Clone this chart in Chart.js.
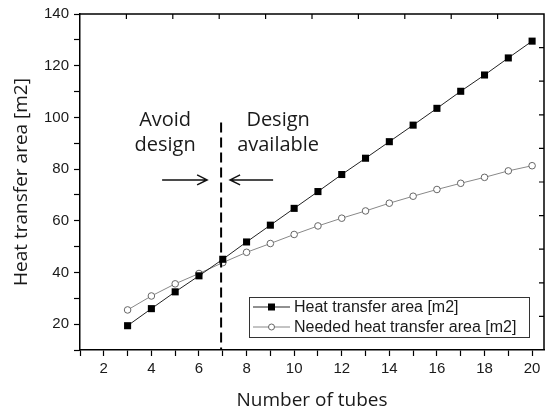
<!DOCTYPE html>
<html>
<head>
<meta charset="utf-8">
<script src="https://cdn.jsdelivr.net/npm/chart.js@4.4.1/dist/chart.umd.min.js"></script>
<style>
  html, body { margin: 0; padding: 0; background: #fff; }
  #wrap { width: 555px; height: 409px; }
</style>
</head>
<body>
<div id="wrap"><canvas id="tubesChart"></canvas></div>
<script>
// Data
const tubes = [3, 4, 5, 6, 7, 8, 9, 10, 11, 12, 13, 14, 15, 16, 17, 18, 19, 20];
const heatArea = [19.4, 26.0, 32.5, 38.7, 45.1, 51.8, 58.3, 64.8, 71.3, 77.9, 84.2, 90.6, 97.0, 103.5, 110.1, 116.4, 123.0, 129.5];
const neededArea = [25.5, 30.9, 35.6, 39.6, 43.8, 47.8, 51.2, 54.7, 58.0, 61.0, 63.8, 66.8, 69.5, 72.1, 74.5, 76.8, 79.3, 81.3];
const xTickLabels = [2, 4, 6, 8, 10, 12, 14, 16, 18, 20];
const yTickLabels = [20, 40, 60, 80, 100, 120, 140];
const seriesNames = ['Heat transfer area [m2]', 'Needed heat transfer area [m2]'];

// Annotations (data coordinates)
const dividerX = 6.93;
const dividerTop = 98;
const arrowY = 75.8;
const avoidLines = ['Avoid', 'design'];
const availLines = ['Design', 'available'];

const TXT = '#1a1a1a';
const LABEL_FONT = '"Liberation Sans", Arial, sans-serif';
const TITLE_FONT = '"Open Sans", "Noto Sans", sans-serif';

// frame, mirrored ticks, divider, arrows, notes and legend
const decorPlugin = {
    id: 'decor',
    afterDatasetsDraw(chart) {
        const { ctx, chartArea: a, scales: { x, y } } = chart;
        ctx.save();

        // top & right frame lines with inward ticks (10 divisions)
        ctx.strokeStyle = '#000';
        ctx.lineWidth = 1.5;
        ctx.beginPath();
        ctx.moveTo(a.left, a.top);
        ctx.lineTo(a.right, a.top);
        ctx.lineTo(a.right, a.bottom);
        ctx.stroke();
        ctx.lineWidth = 1.2;
        ctx.beginPath();
        for (let k = 1; k < 10; k++) {
            const px = x.getPixelForValue(x.min + k * (x.max - x.min) / 10);
            ctx.moveTo(px, a.top);
            ctx.lineTo(px, a.top + 5);
            const py = y.getPixelForValue(y.min + k * (y.max - y.min) / 10);
            ctx.moveTo(a.right, py);
            ctx.lineTo(a.right - 5, py);
        }
        ctx.stroke();

        // dashed divider
        const dx = x.getPixelForValue(dividerX);
        ctx.lineWidth = 2;
        ctx.setLineDash([10, 5]);
        ctx.beginPath();
        ctx.moveTo(dx, y.getPixelForValue(dividerTop));
        ctx.lineTo(dx, a.bottom);
        ctx.stroke();
        ctx.setLineDash([]);

        // arrows pointing at the divider
        const ay = y.getPixelForValue(arrowY);
        ctx.lineWidth = 1.5;
        ctx.strokeStyle = '#111';
        const arrow = (fromX, toX) => {
            const dir = Math.sign(toX - fromX);
            ctx.beginPath();
            ctx.moveTo(fromX, ay);
            ctx.lineTo(toX, ay);
            ctx.moveTo(toX - dir * 10, ay - 5);
            ctx.lineTo(toX, ay);
            ctx.lineTo(toX - dir * 10, ay + 5);
            ctx.stroke();
        };
        arrow(dx - 59, dx - 14);
        arrow(dx + 52, dx + 9);

        // notes
        ctx.fillStyle = TXT;
        ctx.font = '20px ' + TITLE_FONT;
        ctx.textAlign = 'center';
        ctx.textBaseline = 'alphabetic';
        const noteY = y.getPixelForValue(96.7);
        avoidLines.forEach((t, i) => ctx.fillText(t, dx - 56, noteY + i * 25));
        availLines.forEach((t, i) => ctx.fillText(t, dx + 57, noteY + i * 25));

        // legend box
        const lw = 280, lh = 40;
        const lx = a.right - 15 - lw, ly = a.bottom - 13 - lh;
        ctx.fillStyle = '#fff';
        ctx.fillRect(lx, ly, lw, lh);
        ctx.strokeStyle = '#333';
        ctx.lineWidth = 1;
        ctx.strokeRect(lx + 0.5, ly + 0.5, lw, lh);
        chart.data.datasets.forEach((ds, i) => {
            const ry = ly + 10 + i * 20;
            ctx.strokeStyle = ds.borderColor;
            ctx.lineWidth = 1;
            ctx.beginPath();
            ctx.moveTo(lx + 4, ry);
            ctx.lineTo(lx + 41, ry);
            ctx.stroke();
            if (i === 0) {
                ctx.fillStyle = '#000';
                ctx.fillRect(lx + 19, ry - 3.5, 7, 7);
            } else {
                ctx.fillStyle = '#fff';
                ctx.strokeStyle = ds.pointBorderColor;
                ctx.beginPath();
                ctx.arc(lx + 22.5, ry, 3, 0, Math.PI * 2);
                ctx.fill();
                ctx.stroke();
            }
            ctx.fillStyle = TXT;
            ctx.font = '16px ' + LABEL_FONT;
            ctx.textAlign = 'left';
            ctx.textBaseline = 'middle';
            ctx.fillText(seriesNames[i], lx + 45, ry + 1);
        });

        ctx.restore();
    }
};

const ctx = document.getElementById('tubesChart').getContext('2d');
new Chart(ctx, {
    type: 'scatter',
    data: {
        datasets: [
            {
                label: seriesNames[0],
                data: tubes.map((t, i) => ({ x: t, y: heatArea[i] })),
                showLine: true,
                borderColor: '#222',
                borderWidth: 1,
                pointStyle: 'rect',
                pointRadius: 5,
                pointBackgroundColor: '#000',
                pointBorderColor: '#000',
                pointBorderWidth: 0
            },
            {
                label: seriesNames[1],
                data: tubes.map((t, i) => ({ x: t, y: neededArea[i] })),
                showLine: true,
                borderColor: '#888',
                borderWidth: 1,
                pointStyle: 'circle',
                pointRadius: 3.3,
                pointBackgroundColor: '#fff',
                pointBorderColor: '#666',
                pointBorderWidth: 1
            }
        ]
    },
    plugins: [decorPlugin],
    options: {
        responsive: true,
        maintainAspectRatio: false,
        animation: false,
        layout: { padding: { left: 0, top: 14, right: 11, bottom: 0 } },
        plugins: {
            legend: { display: false },
            tooltip: { enabled: false }
        },
        scales: {
            x: {
                type: 'linear',
                min: 1,
                max: 20.5,
                afterBuildTicks(scale) {
                    // one tick per tube count, 1..20
                    const t = [];
                    for (let v = 1; v <= 20; v++) t.push({ value: v });
                    scale.ticks = t;
                },
                afterFit(scale) { scale.height = 59; },
                ticks: {
                    stepSize: 1,
                    autoSkip: false,
                    maxRotation: 0,
                    padding: 4,
                    color: TXT,
                    font: { family: LABEL_FONT, size: 15 },
                    callback: v => xTickLabels.includes(v) ? String(v) : ''
                },
                grid: { drawOnChartArea: false, drawTicks: true, tickLength: 6, color: '#000', tickWidth: 1.2 },
                border: { display: true, color: '#000', width: 1.5 },
                title: {
                    display: true,
                    text: 'Number of tubes',
                    color: TXT,
                    font: { family: TITLE_FONT, size: 19 },
                    padding: { top: 0, bottom: -3 }
                }
            },
            y: {
                type: 'linear',
                min: 10,
                max: 140,
                afterFit(scale) { scale.width = 80; },
                ticks: {
                    stepSize: 10,
                    autoSkip: false,
                    padding: 5,
                    color: TXT,
                    font: { family: LABEL_FONT, size: 15 },
                    callback: v => yTickLabels.includes(v) ? String(v) : ''
                },
                grid: { drawOnChartArea: false, drawTicks: true, tickLength: 6, color: '#000', tickWidth: 1.2 },
                border: { display: true, color: '#000', width: 1.5 },
                title: {
                    display: true,
                    text: 'Heat transfer area [m2]',
                    color: TXT,
                    font: { family: TITLE_FONT, size: 19 },
                    padding: { top: 10, bottom: 0 }
                }
            }
        }
    }
});
</script>
</body>
</html>
